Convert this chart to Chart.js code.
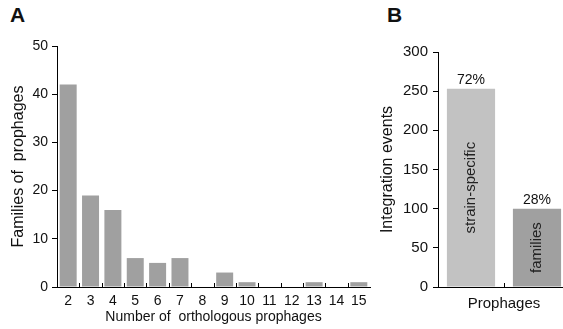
<!DOCTYPE html>
<html>
<head>
<meta charset="utf-8">
<script src="https://cdn.jsdelivr.net/npm/chart.js@4.4.1/dist/chart.umd.min.js"></script>
<style>
  html, body { margin: 0; padding: 0; background: #fff; overflow: hidden; }
  #wrap { position: relative; width: 563px; height: 329px; overflow: hidden; font-family: "Liberation Sans", Arial, sans-serif; }
  .panel { position: absolute; font-weight: bold; font-size: 21px; color: #111; }
  #boxA { position: absolute; left: 0; top: 0; width: 375px; height: 329px; }
  #boxB { position: absolute; left: 375px; top: 0; width: 200px; height: 329px; }
</style>
</head>
<body>
<div id="wrap">
  <div class="panel" style="left:10px; top:3px;">A</div>
  <div class="panel" style="left:387px; top:3px;">B</div>
  <div id="boxA"><canvas id="chartA"></canvas></div>
  <div id="boxB"><canvas id="chartB"></canvas></div>
</div>
<script>
// Panel A: familias de profagos por número de ortólogos
const copias = ['2', '3', '4', '5', '6', '7', '8', '9', '10', '11', '12', '13', '14', '15'];
const familias = [42, 19, 16, 6, 5, 6, 0, 3, 1, 0, 0, 1, 0, 1];

// Panel B: eventos de integración
const tipos = ['strain-specific', 'families'];
const eventos = [253, 100];
const porcentajes = ['72%', '28%'];

Chart.defaults.font.family = '"Liberation Sans", Arial, sans-serif';
Chart.defaults.color = '#111';
Chart.defaults.animation = false;

// pequeñas marcas hacia arriba entre categorías del eje x
const marcasInternas = {
  id: 'marcasInternas',
  afterDraw(chart) {
    const ctx = chart.ctx;
    const x = chart.scales.x;
    const y0 = chart.chartArea.bottom;
    ctx.save();
    ctx.strokeStyle = '#000';
    ctx.lineWidth = 1;
    for (let i = 1; i < x.ticks.length; i++) {
      const px = Math.round((x.getPixelForValue(i - 1) + x.getPixelForValue(i)) / 2) + 0.5;
      ctx.beginPath();
      ctx.moveTo(px, y0);
      ctx.lineTo(px, y0 - 4);
      ctx.stroke();
    }
    ctx.restore();
  }
};

// etiquetas de porcentaje y texto vertical dentro de las barras
const etiquetasB = {
  id: 'etiquetasB',
  afterDatasetsDraw(chart) {
    const ctx = chart.ctx;
    const meta = chart.getDatasetMeta(0);
    ctx.save();
    meta.data.forEach((bar, i) => {
      ctx.fillStyle = '#111';
      ctx.font = '14px "Liberation Sans", Arial, sans-serif';
      ctx.textAlign = 'center';
      ctx.textBaseline = 'middle';
      ctx.fillText(porcentajes[i], bar.x, bar.y - 9);
      ctx.save();
      ctx.translate(bar.x, (bar.y + bar.base) / 2);
      ctx.rotate(-Math.PI / 2);
      ctx.font = '15px "Liberation Sans", Arial, sans-serif';
      ctx.fillStyle = '#222';
      ctx.fillText(tipos[i], 0, 0);
      ctx.restore();
    });
    ctx.restore();
  }
};

new Chart(document.getElementById('chartA'), {
  type: 'bar',
  data: {
    labels: copias,
    datasets: [{
      data: familias,
      backgroundColor: '#a0a0a0',
      barPercentage: 0.76,
      categoryPercentage: 1
    }]
  },
  options: {
    responsive: true,
    maintainAspectRatio: false,
    layout: { padding: { top: 46, right: 5, left: 0, bottom: 0 } },
    plugins: { legend: { display: false }, tooltip: { enabled: false } },
    scales: {
      y: {
        min: 0, max: 50,
        ticks: { stepSize: 10, padding: 4, font: { size: 14 }, color: '#111' },
        grid: { drawOnChartArea: false, tickLength: 5, color: '#000' },
        border: { color: '#000', width: 1 },
        title: { display: true, text: 'Families of  prophages', font: { size: 16 }, color: '#111', padding: { top: 9, bottom: 0 } },
        afterFit: s => { s.width = 57; }
      },
      x: {
        ticks: { padding: 6, font: { size: 14 }, color: '#111', autoSkip: false, maxRotation: 0 },
        grid: { drawOnChartArea: false, drawTicks: false, color: '#000' },
        border: { color: '#000', width: 1 },
        title: { display: true, text: 'Number of  orthologous prophages', font: { size: 14 }, color: '#111', padding: { top: 0, bottom: 3 } },
        afterFit: s => { s.height = 42; }
      }
    }
  },
  plugins: [marcasInternas]
});

new Chart(document.getElementById('chartB'), {
  type: 'bar',
  data: {
    labels: tipos,
    datasets: [{
      data: eventos,
      backgroundColor: ['#c2c2c2', '#a0a0a0'],
      barPercentage: 0.73,
      categoryPercentage: 1
    }]
  },
  options: {
    responsive: true,
    maintainAspectRatio: false,
    layout: { padding: { top: 52, right: 5, left: 0, bottom: 0 } },
    plugins: { legend: { display: false }, tooltip: { enabled: false } },
    scales: {
      y: {
        min: 0, max: 300,
        ticks: { stepSize: 50, padding: 5, font: { size: 15 }, color: '#111' },
        grid: { drawOnChartArea: false, tickLength: 5, color: '#000' },
        border: { color: '#000', width: 1 },
        title: { display: true, text: 'Integration events', font: { size: 16 }, color: '#111', padding: { top: 3, bottom: 0 } },
        afterFit: s => { s.width = 63; }
      },
      x: {
        ticks: { display: false },
        grid: { drawOnChartArea: false, drawTicks: false, color: '#000' },
        border: { color: '#000', width: 1 },
        title: { display: true, text: 'Prophages', font: { size: 15 }, color: '#111', padding: { top: 0, bottom: 16 } },
        afterFit: s => { s.height = 42; }
      }
    }
  },
  plugins: [marcasInternas, etiquetasB]
});
</script>
</body>
</html>
